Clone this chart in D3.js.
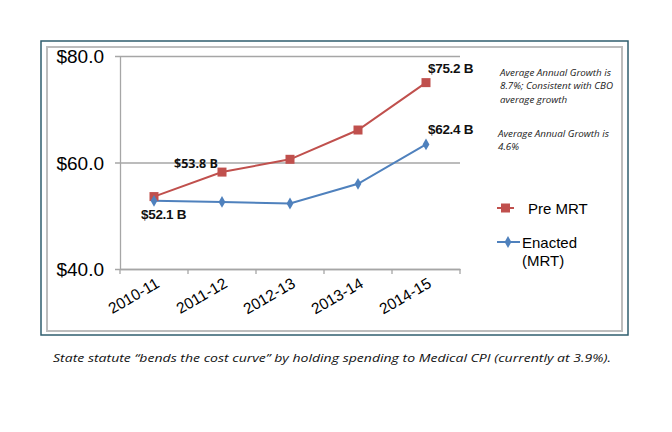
<!DOCTYPE html>
<html>
<head>
<meta charset="utf-8">
<script src="https://cdn.jsdelivr.net/npm/d3@7"></script>
<style>
  html, body { margin: 0; padding: 0; background: #fff; }
  svg { display: block; }
</style>
</head>
<body>
<svg id="chart" width="672" height="432"></svg>
<script>
// ---- data ----
const categories = ["2010-11", "2011-12", "2012-13", "2013-14", "2014-15"];
const preMRT = [53.6, 58.2, 60.6, 66.1, 75.0];
const enacted = [52.8, 52.6, 52.3, 56.0, 63.4];
const yTicks = [40, 60, 80];
const seriesNames = ["Pre MRT", "Enacted (MRT)"];
const valueLabels = ["$75.2 B", "$62.4 B", "$53.8 B", "$52.1 B"];
const notes = [
  ["Average Annual Growth is", "8.7%; Consistent  with CBO", "average growth"],
  ["Average Annual Growth is", "4.6%"]
];
const caption = "State statute \u201cbends the cost curve\u201d  by holding spending to Medical CPI (currently at 3.9%).";

const RED = "#C0504D", BLUE = "#4F81BD";
const svg = d3.select("#chart");

// frame
svg.append("rect").attr("x", 41).attr("y", 41).attr("width", 587).attr("height", 294)
  .attr("fill", "none").attr("stroke", "#2F5E6E").attr("stroke-width", 1.5);
svg.append("rect").attr("x", 47).attr("y", 47).attr("width", 575).attr("height", 284)
  .attr("fill", "none").attr("stroke", "#BDBDBD").attr("stroke-width", 2);

const x = d3.scaleBand().domain(categories).range([120, 460]);
const y = d3.scaleLinear().domain([40, 80]).range([269, 56]);
const cx = d => x(d) + x.bandwidth() / 2;

// gridlines + y axis
const yAxis = d3.axisLeft(y).tickValues(yTicks).tickSize(-(460 - 120)).tickSizeOuter(0)
  .tickFormat(d => "$" + d3.format(".1f")(d));
const gy = svg.append("g").attr("transform", "translate(120,0)").call(yAxis);
gy.select(".domain").attr("stroke", "#A6A6A6").attr("stroke-width", 1.3);
gy.selectAll(".tick line").attr("stroke", "#A6A6A6").attr("stroke-width", 1.3).attr("x1", -5);
gy.selectAll(".tick text").attr("x", -16).attr("dy", "0.36em")
  .attr("font-family", "Liberation Sans, Arial, sans-serif").attr("font-size", 19).attr("fill", "#000");

// x axis
const xAxis = d3.axisBottom(x).tickSize(0).tickSizeOuter(0);
const gx = svg.append("g").attr("transform", "translate(0,269)").call(xAxis);
gx.select(".domain").attr("stroke", "#A6A6A6").attr("stroke-width", 1.3);
// tick marks at band boundaries
const bounds = categories.map(c => x(c)).concat([x(categories[categories.length - 1]) + x.bandwidth()]);
gx.selectAll("line.bt").data(bounds).enter().append("line").attr("class", "bt")
  .attr("x1", d => d).attr("x2", d => d).attr("y1", 0).attr("y2", 5)
  .attr("stroke", "#A6A6A6").attr("stroke-width", 1.3);
gx.selectAll(".tick text")
  .attr("font-family", "Liberation Sans, Arial, sans-serif").attr("font-size", 15.5).attr("fill", "#000")
  .attr("text-anchor", "end")
  .attr("transform", "translate(1,8) rotate(-30)")
  .attr("y", 0).attr("dy", "0.7em");

// lines
const line = d3.line().x((d, i) => cx(categories[i])).y(d => y(d));
svg.append("path").datum(preMRT).attr("d", line).attr("fill", "none").attr("stroke", RED).attr("stroke-width", 2);
svg.append("path").datum(enacted).attr("d", line).attr("fill", "none").attr("stroke", BLUE).attr("stroke-width", 2);

// markers
svg.selectAll("rect.pm").data(preMRT).enter().append("rect").attr("class", "pm")
  .attr("x", (d, i) => cx(categories[i]) - 4.5).attr("y", d => y(d) - 4.5)
  .attr("width", 9).attr("height", 9).attr("fill", RED);
const diamond = d3.symbol().type(d3.symbolDiamond).size(40);
svg.selectAll("path.en").data(enacted).enter().append("path").attr("class", "en")
  .attr("d", diamond)
  .attr("transform", (d, i) => `translate(${cx(categories[i])},${y(d)})`)
  .attr("fill", BLUE);

// value labels
const last = categories.length - 1;
const vl = [
  { t: valueLabels[0], x: cx(categories[last]) + 2, y: y(preMRT[last]) - 10, f: "Liberation Sans, Arial, sans-serif" },
  { t: valueLabels[1], x: cx(categories[last]) + 2, y: y(enacted[last]) - 10, f: "Liberation Sans, Arial, sans-serif" },
  { t: valueLabels[2], x: cx(categories[0]) + 20, y: y(60) + 5, f: "Open Sans, sans-serif" },
  { t: valueLabels[3], x: cx(categories[0]) - 13, y: y(enacted[0]) + 18, f: "Liberation Sans, Arial, sans-serif" }
];
svg.selectAll("text.vl").data(vl).enter().append("text").attr("class", "vl")
  .attr("x", d => d.x).attr("y", d => d.y)
  .attr("font-family", d => d.f).attr("font-weight", "bold")
  .attr("font-size", (d, i) => i === 2 ? 12.5 : 13.5).attr("fill", "#111")
  .attr("letter-spacing", (d, i) => i === 2 ? 0 : -0.3)
  .text(d => d.t);

// notes
const noteY = [76, 137];
const noteX = [500, 498];
notes.forEach((lines, k) => {
  lines.forEach((s, j) => {
    svg.append("text").attr("x", noteX[k]).attr("y", noteY[k] + j * 13.3)
      .attr("font-family", "Open Sans, sans-serif").attr("font-style", "italic")
      .attr("font-size", 9.8).attr("fill", "#222").text(s);
  });
});

// legend
const lg = svg.append("g");
lg.append("line").attr("x1", 497).attr("x2", 514).attr("y1", 208).attr("y2", 208).attr("stroke", RED).attr("stroke-width", 2);
lg.append("rect").attr("x", 501).attr("y", 203.5).attr("width", 9).attr("height", 9).attr("fill", RED);
lg.append("text").attr("x", 528).attr("y", 213.5).attr("font-family", "Liberation Sans, Arial, sans-serif")
  .attr("font-size", 15).attr("fill", "#000").text(seriesNames[0]);
lg.append("line").attr("x1", 497).attr("x2", 520).attr("y1", 242).attr("y2", 242).attr("stroke", BLUE).attr("stroke-width", 2);
lg.append("path").attr("d", diamond).attr("transform", "translate(508,242)").attr("fill", BLUE);
const en = seriesNames[1].split(" ");
lg.append("text").attr("x", 522).attr("y", 247.5).attr("font-family", "Liberation Sans, Arial, sans-serif")
  .attr("font-size", 15).attr("fill", "#000").text(en[0]);
lg.append("text").attr("x", 522).attr("y", 266).attr("font-family", "Liberation Sans, Arial, sans-serif")
  .attr("font-size", 15).attr("fill", "#000").text(en[1]);

// caption
svg.append("text").attr("x", 53).attr("y", 362)
  .attr("font-family", "Open Sans, sans-serif").attr("font-style", "italic")
  .attr("font-size", 11.5).attr("fill", "#111")
  .attr("textLength", 558).attr("lengthAdjust", "spacingAndGlyphs")
  .text(caption);
</script>
</body>
</html>
